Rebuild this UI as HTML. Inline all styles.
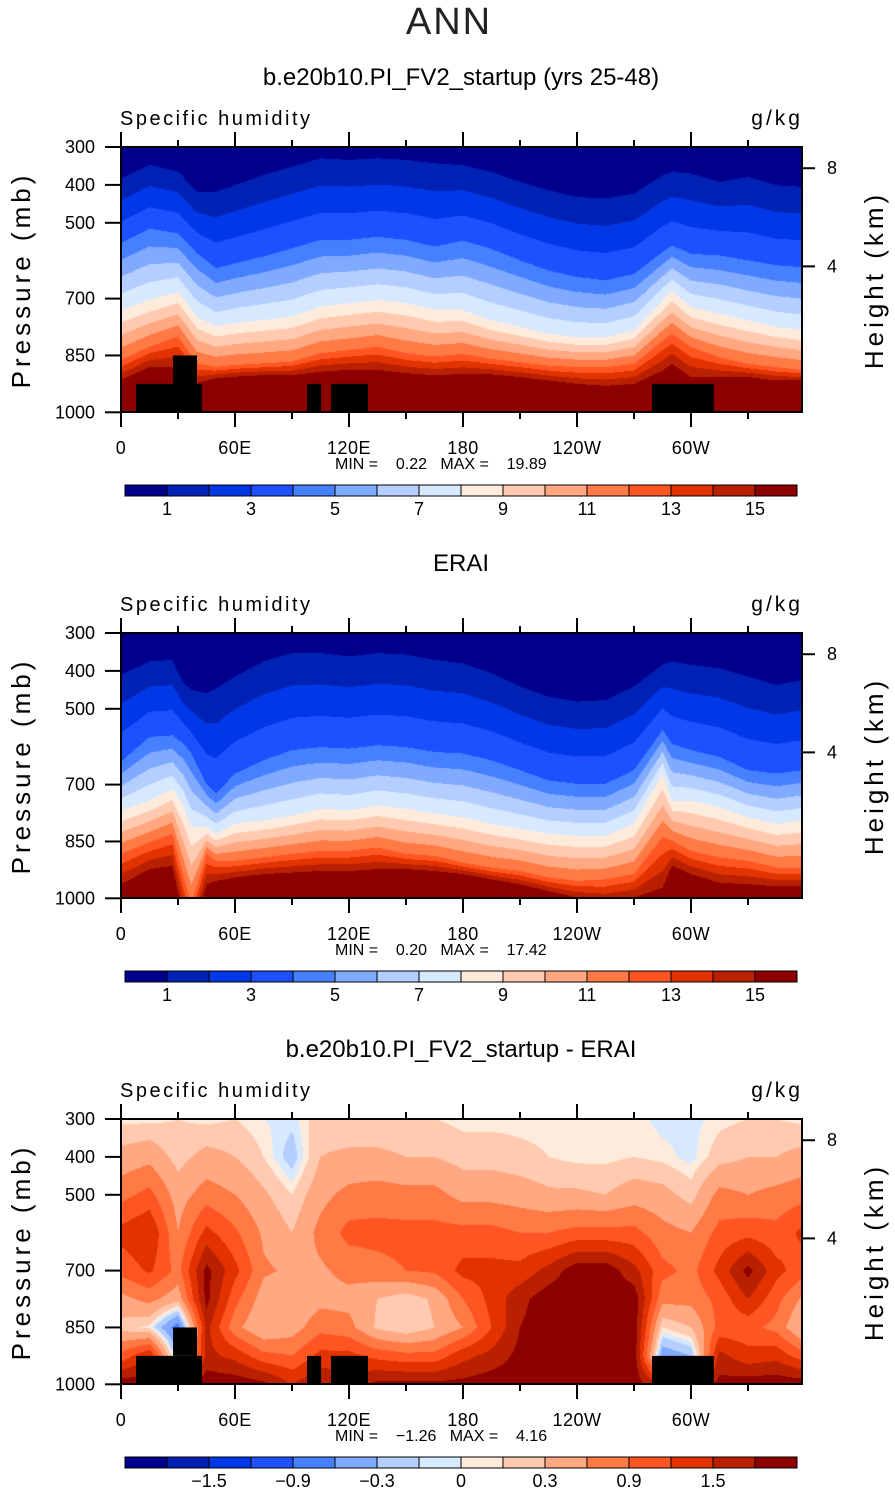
<!DOCTYPE html>
<html><head><meta charset="utf-8">
<style>
html,body{margin:0;padding:0;background:#fff;}
#root{position:relative;width:895px;height:1493px;overflow:hidden;font-family:"Liberation Sans",sans-serif;}
canvas{position:absolute;}
svg{position:absolute;left:0;top:0;}
</style></head>
<body>
<div id="root">
<canvas id="c0" width="681" height="265" style="left:121px;top:147px"></canvas>
<canvas id="c1" width="681" height="265" style="left:121px;top:633px"></canvas>
<canvas id="c2" width="681" height="265" style="left:121px;top:1119px"></canvas>
<svg id="ov" width="895" height="1493"></svg>
</div>
<script>
// ---------- data ----------
const colors = ['#00008c','#0022b4','#0037e6','#1e50ff','#4680ff','#80aaff','#b4ceff','#d7e9ff','#ffebdc','#ffcaaf','#ffa882','#ff7a45','#ff5522','#e13200','#b92000','#8c0000'];
const keyLevels = [1,4,8,12,15];
// Panel 1 (model): pressure (mb) of key contour levels at each longitude
const lonsA = [0,15,30,40,50,60,75,90,105,120,135,150,165,180,195,210,225,240,255,270,285,290,300,315,330,345,358.5];
const mL1  = [383,347,365,418,418,400,374,352,330,334,330,334,343,348,366,392,414,432,436,423,375,366,370,392,379,401,405];
const mL4  = [554,515,528,580,620,607,589,567,545,545,537,545,563,547,569,599,626,643,652,635,577,560,582,586,599,612,617];
const mL8  = [730,704,682,748,774,765,756,748,721,712,704,712,730,731,758,775,793,802,802,784,705,679,723,740,758,775,784];
const mL12 = [862,827,800,871,880,875,871,866,844,836,827,844,853,846,859,868,877,881,881,872,811,793,828,855,872,881,889];
const mL15 = [915,880,880,923,910,906,902,902,893,888,888,897,902,899,900,907,916,925,930,925,890,872,907,907,907,916,916];
// Panel 2 (ERAI)
const lonsB = [0,15,27,33,37,45,50,60,75,90,105,120,135,150,165,180,195,210,225,240,255,270,285,290,300,315,330,345,358.5];
const eL1  = [410,375,371,433,450,459,446,415,375,353,353,362,353,357,371,380,406,441,468,481,477,441,384,375,384,393,415,437,424];
const eL4  = [640,574,570,592,618,698,724,671,636,609,601,605,596,601,614,618,636,662,689,698,698,662,556,592,609,627,662,671,662];
const eL8  = [768,742,711,760,813,813,830,804,795,782,764,768,755,764,777,786,804,817,830,835,835,804,671,742,742,760,786,804,795];
const eL12 = [883,852,830,945,1016,883,901,901,892,883,875,875,866,883,888,906,919,928,945,954,950,936,839,848,875,892,901,919,919];
const eL15 = [963,923,914,1050,1100,963,954,945,936,932,928,928,923,923,928,936,950,963,981,998,1007,998,972,914,936,959,963,968,968];
// Panel 3 (difference) grid
const diffLevels = [-1.8,-1.5,-1.2,-0.9,-0.6,-0.3,-0.1,0,0.1,0.3,0.6,0.9,1.2,1.5,1.8];
const gridLons = [0,15,30,45,60,75,90,105,120,135,150,165,180,195,210,225,240,255,270,285,300,315,330,345,360];
const gridPres = [300,400,500,600,700,775,850,925,1000];
const dq = [
[0.05,0.4,0.8,1.3,1.0,0.5,0.2,1.0,2.0],
[0.05,0.5,1.0,1.5,1.25,0.7,0.05,1.5,2.0],
[0.1,0.2,0.45,0.6,0.8,0.4,-0.8,-0.3,2.0],
[0.05,0.4,0.75,1.3,1.9,1.9,1.6,1.6,2.0],
[0.1,0.3,0.6,0.95,1.3,1.0,0.7,1.4,2.0],
[0.0,0.1,0.35,0.55,0.65,0.45,0.3,1.0,1.9],
[-0.05,-0.2,0.1,0.3,0.55,0.35,0.45,0.9,1.5],
[0.2,0.3,0.5,0.7,0.55,0.5,0.8,1.3,1.8],
[0.15,0.35,0.7,1.0,0.7,0.5,0.7,1.3,1.6],
[0.15,0.35,0.75,1.0,0.8,0.3,0.25,1.1,1.9],
[0.15,0.3,0.7,1.0,0.9,0.15,0.1,1.0,1.9],
[0.1,0.3,0.7,1.0,0.95,0.35,0.3,1.0,1.9],
[0.05,0.2,0.5,1.0,1.3,0.9,0.6,1.4,1.9],
[0.05,0.2,0.5,1.0,1.3,1.3,1.2,1.6,2.0],
[0.05,0.15,0.45,0.9,1.3,1.7,1.8,1.9,2.0],
[0.05,0.1,0.35,0.9,1.6,2.0,2.0,2.0,2.0],
[0.05,0.05,0.35,1.0,2.0,2.0,2.0,2.0,2.0],
[0.05,0.05,0.3,1.0,2.0,2.0,2.0,2.0,2.0],
[0.05,0.1,0.45,1.0,1.6,2.0,2.0,2.0,2.0],
[-0.05,0.05,0.4,0.7,1.0,0.7,0.1,-0.5,1.5],
[-0.05,-0.05,0.2,0.6,0.8,0.7,0.3,-0.3,1.5],
[0.05,0.2,0.7,1.0,1.3,1.0,1.0,1.6,1.9],
[0.1,0.3,0.6,1.1,1.9,1.5,1.0,1.3,2.0],
[0.1,0.3,0.7,1.0,1.3,1.0,0.8,1.4,2.0],
[0.05,0.4,0.8,1.3,1.0,0.5,0.2,1.0,2.0]
];
// topography mask boxes: [lonStart, lonEnd, pTop, pBottom]
const maskLonStart = [7.9,27.4,97.9,110.5,279.5];
const maskLonEnd   = [42.6,40.0,105.3,130.0,312.0];
const maskPTop     = [925,850,925,925,925];
const maskPBot     = [1000,925,1000,1000,1000];
// axis labels
const lonTicks = [0,60,120,180,240,300];
const lonTickLabels = ['0','60E','120E','180','120W','60W'];
const presTicks = [300,400,500,700,850,1000];
const heightTicks = [8,4];
const heightTickP = [356,615];
const cbLabels1 = ['1','3','5','7','9','11','13','15'];
const cbLabelIdx1 = [1,3,5,7,9,11,13,15];
const cbLabels3 = ['\u22121.5','\u22120.9','\u22120.3','0','0.3','0.9','1.5'];
const cbLabelIdx3 = [2,4,6,8,10,12,14];
const panelTitles = ['b.e20b10.PI_FV2_startup (yrs 25-48)','ERAI','b.e20b10.PI_FV2_startup - ERAI'];
const minVals = ['0.22','0.20','\u22121.26'];
const maxVals = ['19.89','17.42','4.16'];

// ---------- scales ----------
const X0=121, XS=1.9, PS=0.379;
const panelTops=[147,633,1119];
function xs(lon){return X0+XS*lon;}
function ys(p,top){return top+(p-300)*PS;}
function hex(c){return [parseInt(c.substr(1,2),16),parseInt(c.substr(3,2),16),parseInt(c.substr(5,2),16)];}
const rgb = colors.map(hex);
function interp(xa,ya,x){
  if(x<=xa[0]) return ya[0];
  for(let i=0;i<xa.length-1;i++){ if(x<=xa[i+1]){const t=(x-xa[i])/(xa[i+1]-xa[i]);return ya[i]+t*(ya[i+1]-ya[i]);} }
  return ya[ya.length-1];
}
function drawKey(id,lons,arrs){
  const cv=document.getElementById(id),ctx=cv.getContext('2d');
  const W=cv.width,H=cv.height,img=ctx.createImageData(W,H);
  for(let px=0;px<W;px++){
    const lon=(px+0.5)/XS;
    const P=arrs.map(a=>interp(lons,a,lon));
    for(let py=0;py<H;py++){
      const p=300+(py+0.5)/PS; let b;
      if(p<P[0]) b=0; else if(p>=P[4]) b=15; else {
        let j=0; while(j<3 && p>=P[j+1]) j++;
        const v=keyLevels[j]+(keyLevels[j+1]-keyLevels[j])*(p-P[j])/(P[j+1]-P[j]);
        b=Math.max(0,Math.min(15,Math.floor(v)));
      }
      const o=(py*W+px)*4,c=rgb[b]; img.data[o]=c[0];img.data[o+1]=c[1];img.data[o+2]=c[2];img.data[o+3]=255;
    }
  }
  ctx.putImageData(img,0,0);
}
function drawGrid(id){
  const cv=document.getElementById(id),ctx=cv.getContext('2d');
  const W=cv.width,H=cv.height,img=ctx.createImageData(W,H);
  for(let px=0;px<W;px++){
    const lon=(px+0.5)/XS;
    let i=Math.min(gridLons.length-2,Math.floor(lon/15)); const tx=(lon-gridLons[i])/(gridLons[i+1]-gridLons[i]);
    const col=gridPres.map((_,k)=>dq[i][k]*(1-tx)+dq[i+1][k]*tx);
    for(let py=0;py<H;py++){
      const p=300+(py+0.5)/PS; const v=interp(gridPres,col,p);
      let b=0; while(b<15 && v>=diffLevels[b]) b++;
      const o=(py*W+px)*4,c=rgb[b]; img.data[o]=c[0];img.data[o+1]=c[1];img.data[o+2]=c[2];img.data[o+3]=255;
    }
  }
  ctx.putImageData(img,0,0);
}
drawKey('c0',lonsA,[mL1,mL4,mL8,mL12,mL15]);
drawKey('c1',lonsB,[eL1,eL4,eL8,eL12,eL15]);
drawGrid('c2');

// ---------- overlay ----------
const NS='http://www.w3.org/2000/svg', ov=document.getElementById('ov');
function mk(tag,attrs,txt){const e=document.createElementNS(NS,tag);for(const k in attrs)e.setAttribute(k,attrs[k]);if(txt!==undefined)e.textContent=txt;ov.appendChild(e);return e;}

let t=mk('text',{x:449,y:34,'font-size':38,'text-anchor':'middle','letter-spacing':'2','fill':'#222'},'ANN');



for(let k=0;k<3;k++){
  const top=panelTops[k], bot=top+265, off=top-147;
  t=mk('text',{x:461,y:top-62,'font-size':24,'text-anchor':'middle'},panelTitles[k]);
  
  
  t=mk('text',{x:120,y:top-22,'font-size':20,'letter-spacing':'2.5'},'Specific humidity');
  
  
  t=mk('text',{x:803,y:top-22,'font-size':21,'text-anchor':'end','letter-spacing':'3'},'g/kg');
  
  
  if(k!==1){
    for(let m=0;m<maskLonStart.length;m++){
      const r=mk('rect',{x:xs(maskLonStart[m]),y:ys(maskPTop[m],top),width:xs(maskLonEnd[m])-xs(maskLonStart[m]),height:ys(maskPBot[m],top)-ys(maskPTop[m],top),fill:'#000'});
      
      
    }
  }
  const fr=mk('rect',{x:121,y:top,width:681,height:265,fill:'none',stroke:'#000','stroke-width':2});
  
  
  for(let lon=0;lon<360;lon+=30){
    const major=lon%60===0, L=major?15:7, x=xs(lon);
    mk('line',{x1:x,y1:top,x2:x,y2:top-L,stroke:'#000','stroke-width':2});
    mk('line',{x1:x,y1:bot,x2:x,y2:bot+L,stroke:'#000','stroke-width':2});
  }
  for(let i=0;i<lonTicks.length;i++){
    t=mk('text',{x:xs(lonTicks[i]),y:bot+42,'font-size':18,'text-anchor':'middle','letter-spacing':'0.5'},lonTickLabels[i]);
    
    
  }
  for(let i=0;i<presTicks.length;i++){
    const y=ys(presTicks[i],top);
    mk('line',{x1:105,y1:y,x2:121,y2:y,stroke:'#000','stroke-width':2});
    t=mk('text',{x:95,y:y+6,'font-size':18,'text-anchor':'end'},String(presTicks[i]));
    
    
  }
  for(let i=0;i<heightTicks.length;i++){
    const y=ys(heightTickP[i],top);
    mk('line',{x1:802,y1:y,x2:815,y2:y,stroke:'#000','stroke-width':2});
    t=mk('text',{x:827,y:y+6,'font-size':18},String(heightTicks[i]));
    
    
  }
  const cy=top+133;
  t=mk('text',{x:0,y:0,'font-size':26,'text-anchor':'middle','letter-spacing':'4',transform:`translate(30,${cy}) rotate(-90)`},'Pressure (mb)');
  
  
  t=mk('text',{x:0,y:0,'font-size':26,'text-anchor':'middle','letter-spacing':'4',transform:`translate(883,${cy}) rotate(-90)`},'Height (km)');
  
  
  t=mk('text',{x:335,y:bot+57,'font-size':16},'MIN =    '+minVals[k]+'   MAX =    '+maxVals[k]);
  
  
  t.setAttribute('style','white-space:pre');
  const cbY=485+off;
  for(let b=0;b<16;b++){
    const r=mk('rect',{x:125+42*b,y:cbY,width:42,height:11,fill:colors[b],stroke:'#000','stroke-width':1});
    
    
  }
  const labs=k===2?cbLabels3:cbLabels1, idx=k===2?cbLabelIdx3:cbLabelIdx1;
  for(let i=0;i<labs.length;i++){
    t=mk('text',{x:125+42*idx[i],y:cbY+30,'font-size':18,'text-anchor':'middle'},labs[i]);
    
    
  }
}
</script>
</body></html>
